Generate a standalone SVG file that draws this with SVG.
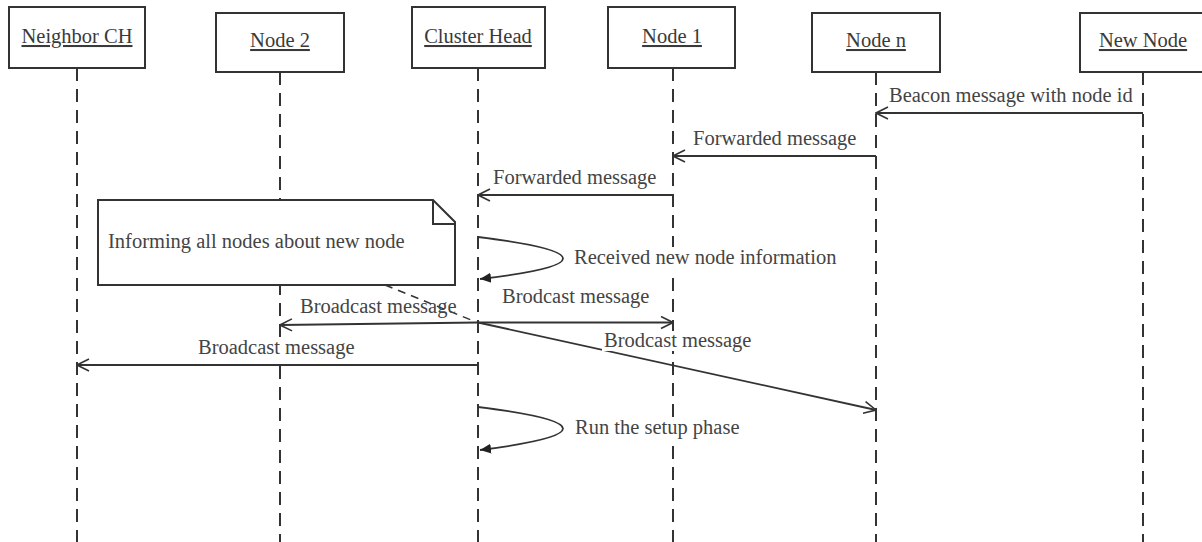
<svg xmlns="http://www.w3.org/2000/svg" width="1202" height="542" viewBox="0 0 1202 542">
<style>
.box{fill:#fff;stroke:#333;stroke-width:2}
.life{stroke:#333;stroke-width:2;stroke-dasharray:13 8;fill:none}
.lbl{font-family:"Liberation Serif",serif;font-size:20.5px;fill:#3a3a3a;text-anchor:middle;text-decoration:underline}
.txt{font-family:"Liberation Serif",serif;font-size:20.5px;fill:#444}
.bg{fill:#fff}
.msg{stroke:#333;stroke-width:1.8;fill:none;marker-end:url(#open)}
.self{stroke:#333;stroke-width:1.8;fill:none;marker-end:url(#filled)}
.anchor{stroke:#333;stroke-width:1.5;stroke-dasharray:8 6;fill:none}
</style>
<defs>
<marker id="open" viewBox="0 0 14 14" refX="13" refY="7" markerWidth="14" markerHeight="14" markerUnits="userSpaceOnUse" orient="auto">
<path d="M1,1 L13,7 L1,13" fill="none" stroke="#333" stroke-width="1.6"/>
</marker>
<marker id="filled" viewBox="0 0 12 12" refX="11" refY="6" markerWidth="12" markerHeight="12" markerUnits="userSpaceOnUse" orient="auto">
<path d="M0,1 L11,6 L0,11 Z" fill="#222"/>
</marker>
</defs>
<rect width="1202" height="542" fill="#fff"/>

<g id="lifelines">
<line class="life" x1="77" y1="68" x2="77" y2="542"/>
<line class="life" x1="280" y1="72" x2="280" y2="542"/>
<line class="life" x1="478" y1="68" x2="478" y2="542"/>
<line class="life" x1="673" y1="68" x2="673" y2="542"/>
<line class="life" x1="876" y1="72" x2="876" y2="542"/>
<line class="life" x1="1143" y1="72" x2="1143" y2="542"/>
</g>

<g id="neighbor-ch">
<rect class="box" x="9" y="7" width="136" height="61"/>
<text class="lbl" x="77" y="43">Neighbor CH</text>
</g>
<g id="node-2">
<rect class="box" x="216" y="13" width="128" height="59"/>
<text class="lbl" x="280" y="47">Node 2</text>
</g>
<g id="cluster-head">
<rect class="box" x="412" y="7" width="133" height="61"/>
<text class="lbl" x="478" y="43">Cluster Head</text>
</g>
<g id="node-1">
<rect class="box" x="608" y="7" width="127" height="61"/>
<text class="lbl" x="672" y="43">Node 1</text>
</g>
<g id="node-n">
<rect class="box" x="812" y="13" width="128" height="59"/>
<text class="lbl" x="876" y="47">Node n</text>
</g>
<g id="new-node">
<rect class="box" x="1080" y="13" width="135" height="59"/>
<text class="lbl" x="1143" y="47">New Node</text>
</g>

<g id="note">
<path class="box" d="M98,200 L433,200 L455,222 L455,285 L98,285 Z"/>
<path d="M433,200 L433,224 L455,224" fill="none" stroke="#333" stroke-width="2"/>
<text class="txt" x="108" y="248">Informing all nodes about new node</text>
</g>

<g id="connectors">
<line class="msg" x1="1143" y1="113" x2="876" y2="113"/>
<line class="msg" x1="876" y1="156" x2="673" y2="156"/>
<line class="msg" x1="673" y1="195" x2="478" y2="195"/>
<path class="self" d="M478,237 C591,251 591,266 480,279"/>
<line class="anchor" x1="385" y1="285" x2="476" y2="322"/>
<line class="msg" x1="478" y1="322.5" x2="673" y2="322.5"/>
<line class="msg" x1="478" y1="322.5" x2="280" y2="325"/>
<line class="msg" x1="478" y1="322.5" x2="876" y2="410"/>
<line class="msg" x1="478" y1="365" x2="77" y2="365"/>
<path class="self" d="M478,407 C591,421 591,436 480,450"/>
</g>

<g id="labels">
<rect class="bg" x="572" y="247" width="266" height="23"/>
<rect class="bg" x="196" y="338" width="161" height="22"/>
<rect class="bg" x="602" y="331" width="151" height="20"/>
<rect class="bg" x="573" y="417" width="170" height="23"/>
<text class="txt" x="889" y="102">Beacon message with node id</text>
<text class="txt" x="693" y="145">Forwarded message</text>
<text class="txt" x="493" y="184">Forwarded message</text>
<text class="txt" x="574" y="264">Received new node information</text>
<text class="txt" x="502" y="303">Brodcast message</text>
<text class="txt" x="300" y="313">Broadcast message</text>
<text class="txt" x="604" y="347">Brodcast message</text>
<text class="txt" x="198" y="354">Broadcast message</text>
<text class="txt" x="575" y="434">Run the setup phase</text>
</g>
</svg>
